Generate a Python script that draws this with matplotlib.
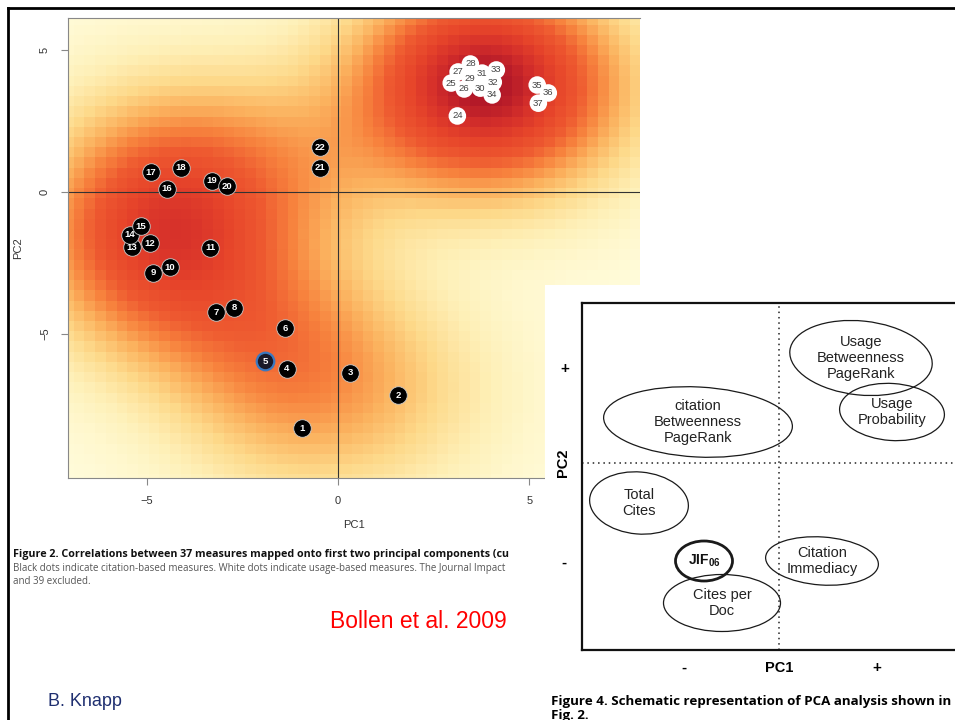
import numpy as np
import matplotlib.pyplot as plt
from matplotlib.colors import LinearSegmentedColormap, PowerNorm
from matplotlib.patches import Ellipse
from matplotlib.lines import Line2D

plt.rcParams['font.family'] = ['Liberation Sans', 'DejaVu Sans']
plt.rcParams['mathtext.fontset'] = 'custom'
plt.rcParams['mathtext.bf'] = 'Liberation Sans:bold'
plt.rcParams['mathtext.rm'] = 'Liberation Sans'

# Fig. 2 - citation based measures (black dots)
cit_id = [1, 2, 3, 4, 5, 6, 7, 8, 9, 10, 11, 12, 13, 14, 15, 16, 17, 18, 19, 20, 21, 22]
cit_pc1 = [-0.94, 1.57, 0.31, -1.34, -1.91, -1.39, -3.19, -2.72, -4.84, -4.40, -3.35,
           -4.92, -5.39, -5.45, -5.16, -4.48, -4.90, -4.11, -3.30, -2.91, -0.47, -0.47]
cit_pc2 = [-8.31, -7.15, -6.37, -6.23, -5.95, -4.79, -4.23, -4.08, -2.85, -2.64, -1.97,
           -1.80, -1.94, -1.51, -1.20, 0.11, 0.70, 0.85, 0.39, 0.21, 0.85, 1.58]

# Fig. 2 - usage based measures (white dots)
use_id = [24, 25, 26, 27, 28, 29, 30, 31, 32, 33, 34, 35, 36, 37]
use_pc1 = [3.12, 2.96, 3.30, 3.14, 3.46, 3.46, 3.72, 3.77, 4.06, 4.14, 4.03, 5.21, 5.50, 5.24]
use_pc2 = [2.68, 3.84, 3.63, 4.23, 4.51, 4.01, 3.66, 4.19, 3.87, 4.30, 3.42, 3.77, 3.49, 3.13]

x_ticks = [-5, 0, 5]
y_ticks = [-5, 0, 5]

# Fig. 4 - schematic groups
sch_text = ['Usage\nBetweenness\nPageRank', 'Usage\nProbability', 'citation\nBetweenness\nPageRank',
            'Total\nCites', r'$\mathbf{JIF_{06}}$', 'Cites per\nDoc', 'Citation\nImmediacy']
sch_pc1 = [82, 113, -81, -140, -75, -57, 43]
sch_pc2 = [105, 51, 41, -40, -98, -140, -98]
sch_w = [143, 105, 189, 99, 57, 117, 113]
sch_h = [74, 57, 70, 62, 40, 57, 48]
sch_ang = [-6, -4, -3, -5, 0, 0, -4]
sch_lw = [0.9, 0.9, 0.9, 0.9, 2.0, 0.9, 0.9]

W, H = 955, 720
def fx(px):
    return px / W
def fy(py):
    return 1 - py / H

fig = plt.figure(figsize=(9.55, 7.2), dpi=100)

# ---- heatmap panel ----
ax = fig.add_axes([fx(68), fy(478), fx(640) - fx(68), fy(18) - fy(478)])
xe = np.arange(-7.2, 8.2, 0.28)
ye = np.arange(-10.3, 6.4, 0.36)
xc = (xe[:-1] + xe[1:]) / 2
yc = (ye[:-1] + ye[1:]) / 2
XX, YY = np.meshgrid(xc, yc)
px = np.array(cit_pc1 + use_pc1)
py = np.array(cit_pc2 + use_pc2)
dens = np.zeros_like(XX)
for a, b in zip(px, py):
    dens += np.exp(-((XX - a) ** 2 / (2 * 1.9 ** 2) + (YY - b) ** 2 / (2 * 2.2 ** 2)))
cmap = LinearSegmentedColormap.from_list('heat', [(0, '#FFFCDC'), (0.12, '#FEF0B8'), (0.25, '#FDD98A'),
                                                  (0.38, '#FBB25E'), (0.5, '#F7843E'), (0.62, '#EE5A30'),
                                                  (0.76, '#E6442A'), (0.88, '#D42E2A'), (1.0, '#AC1428')])
ax.pcolormesh(xe, ye, dens, cmap=cmap, norm=PowerNorm(0.7, vmin=0, vmax=dens.max()))
ax.axhline(0, color='#333333', lw=0.8)
ax.axvline(0, color='#333333', lw=0.8)

ax.scatter(cit_pc1, cit_pc2, s=160, c='black', edgecolors='#cccccc', linewidths=0.6, zorder=3)
ax.scatter([cit_pc1[4]], [cit_pc2[4]], s=160, c='#1a1a2a', edgecolors='#3a78c0', linewidths=1.6, zorder=3)
for i, a, b in zip(cit_id, cit_pc1, cit_pc2):
    ax.text(a, b, str(i), color='white', fontsize=6.8, fontweight='bold', ha='center', va='center', zorder=4)
ax.scatter(use_pc1, use_pc2, s=160, c='white', edgecolors='none', zorder=3)
for i, a, b in zip(use_id, use_pc1, use_pc2):
    ax.text(a, b, str(i), color='#444444', fontsize=6.8, ha='center', va='center', zorder=4)

ax.set_xlim(-7.07, 7.9)
ax.set_ylim(-10.07, 6.13)
ax.set_xticks(x_ticks)
ax.set_yticks(y_ticks)
ax.set_xticklabels(['\u22125', '0', '5'])
ax.set_yticklabels(['\u22125', '0', '5'], rotation=90, va='center')
ax.tick_params(colors='#888888', labelcolor='#333333', labelsize=8, length=5, pad=8)
for s in ['top', 'left', 'bottom']:
    ax.spines[s].set_color('#888888')
ax.spines['right'].set_visible(False)
ax.set_xlabel('PC1', fontsize=8, color='#333333', labelpad=10)
ax.set_ylabel('PC2', fontsize=8, color='#333333', labelpad=12)

# captions left
cap = ['Open Sans', 'DejaVu Sans']
fig.text(fx(13), fy(555), 'Figure 2. Correlations between 37 measures mapped onto first two principal components (cu',
         fontsize=7.75, fontweight='bold', family=cap, va='center', color='#111111')
fig.text(fx(13), fy(569), 'Black dots indicate citation-based measures. White dots indicate usage-based measures. The Journal Impact',
         fontsize=7.0, family=cap, va='center', color='#555555')
fig.text(fx(13), fy(582), 'and 39 excluded.', fontsize=7.0, family=cap, va='center', color='#555555')
fig.text(fx(330), fy(622), 'Bollen et al. 2009', fontsize=16.5, color='#ff0000', va='center')
fig.text(fx(48), fy(702), 'B. Knapp', fontsize=13, color='#1f2f70', va='center')

# slide frame
fig.add_artist(Line2D([fx(8), fx(8)], [fy(8), 0], color='black', lw=2))
fig.add_artist(Line2D([fx(8), 1], [fy(8), fy(8)], color='black', lw=2))

# ---- schematic panel ----
bg = fig.add_axes([fx(545), 0, 1 - fx(545), fy(285)], zorder=10)
bg.set_facecolor('white')
bg.set_xticks([])
bg.set_yticks([])
for s in bg.spines.values():
    s.set_visible(False)

ax2 = fig.add_axes([fx(582), fy(650), fx(955) - fx(582), fy(303) - fy(650)], zorder=11)
ax2.set_xlim(-197, 176)
ax2.set_ylim(-187, 160)
ax2.axvline(0, color='#222222', lw=1.1, ls=(0, (1, 2.5)))
ax2.axhline(0, color='#222222', lw=1.1, ls=(0, (1, 2.5)))
for t, a, b, w, h, g, lw in zip(sch_text, sch_pc1, sch_pc2, sch_w, sch_h, sch_ang, sch_lw):
    ax2.add_patch(Ellipse((a, b), w, h, angle=g, fill=False, ec='#1a1a1a', lw=lw))
    if 'JIF' in t:
        ax2.text(a, b, t, fontsize=10, ha='center', va='center', color='#111111')
    else:
        ax2.text(a, b, t, fontsize=10.5, ha='center', va='center', color='#222222', linespacing=1.15)
ax2.set_xticks([])
ax2.set_yticks([])
for s in ax2.spines.values():
    s.set_linewidth(1.6)
    s.set_color('#111111')
ax2.spines['right'].set_visible(False)

fig.text(fx(565), fy(369), '+', fontsize=11, fontweight='bold', ha='center', va='center', zorder=12)
fig.text(fx(563), fy(463), 'PC2', fontsize=10.5, fontweight='bold', rotation=90, ha='center', va='center', zorder=12)
fig.text(fx(564), fy(563), '-', fontsize=11, fontweight='bold', ha='center', va='center', zorder=12)
fig.text(fx(684), fy(668), '-', fontsize=11, fontweight='bold', ha='center', va='center', zorder=12)
fig.text(fx(779), fy(668), 'PC1', fontsize=10.5, fontweight='bold', ha='center', va='center', zorder=12)
fig.text(fx(877), fy(668), '+', fontsize=11, fontweight='bold', ha='center', va='center', zorder=12)
fig.text(fx(551), fy(702), 'Figure 4. Schematic representation of PCA analysis shown in',
         fontsize=9.6, fontweight='bold', family=cap, va='center', zorder=12)
fig.text(fx(551), fy(715), 'Fig. 2.', fontsize=9.6, fontweight='bold', family=cap, va='center', zorder=12)

fig.savefig('out.png', dpi=100)
